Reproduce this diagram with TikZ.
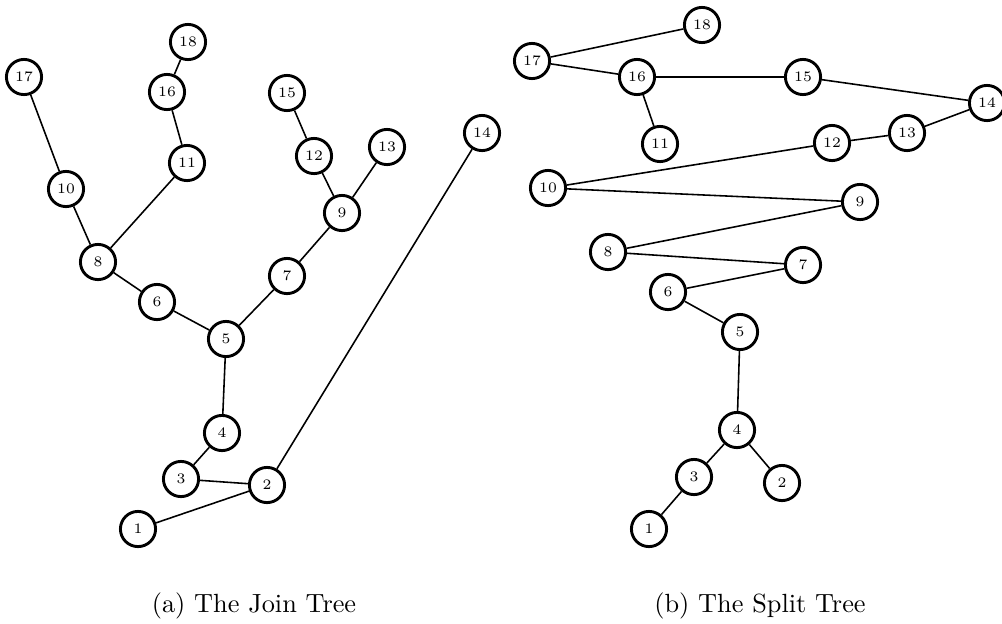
\documentclass[tikz,border=0pt]{standalone}
\begin{document}
\begin{tikzpicture} [x=0.1336cm, y=0.1336cm,
    vertex/.style={circle, draw, line width=1.1pt, minimum size=0.47cm, inner sep=0pt, font=\fontsize{5.5}{6}\selectfont},
    every path/.style={line width=0.6pt}]
    \useasboundingbox (0,0) rectangle (100.2,62.3);
    \node[vertex] (j1) at (13.8, 9.4) {1};
    \node[vertex] (j2) at (26.7, 13.8) {2};
    \node[vertex] (j3) at (18.1, 14.4) {3};
    \node[vertex] (j4) at (22.2, 19.0) {4};
    \node[vertex] (j5) at (22.6, 28.4) {5};
    \node[vertex] (j6) at (15.7, 32.1) {6};
    \node[vertex] (j7) at (28.7, 34.7) {7};
    \node[vertex] (j8) at (9.8, 36.1) {8};
    \node[vertex] (j9) at (34.2, 41.0) {9};
    \node[vertex] (j10) at (6.6, 43.4) {10};
    \node[vertex] (j11) at (18.7, 46.0) {11};
    \node[vertex] (j12) at (31.4, 46.7) {12};
    \node[vertex] (j13) at (38.7, 47.6) {13};
    \node[vertex] (j14) at (48.2, 49.0) {14};
    \node[vertex] (j15) at (28.7, 53.0) {15};
    \node[vertex] (j16) at (16.7, 53.1) {16};
    \node[vertex] (j17) at (2.4, 54.6) {17};
    \node[vertex] (j18) at (18.8, 58.1) {18};
    \draw (j1) -- (j2) -- (j14);
    \draw (j2) -- (j3) -- (j4) -- (j5);
    \draw (j5) -- (j6) -- (j8) -- (j10) -- (j17);
    \draw (j8) -- (j11) -- (j16) -- (j18);
    \draw (j5) -- (j7) -- (j9) -- (j12) -- (j15);
    \draw (j9) -- (j13);

    \node[vertex] (s1) at (64.9, 9.4) {1};
    \node[vertex] (s2) at (78.2, 14.0) {2};
    \node[vertex] (s3) at (69.4, 14.6) {3};
    \node[vertex] (s4) at (73.7, 19.3) {4};
    \node[vertex] (s5) at (74.0, 29.1) {5};
    \node[vertex] (s6) at (66.8, 33.1) {6};
    \node[vertex] (s7) at (80.3, 35.8) {7};
    \node[vertex] (s8) at (60.8, 37.1) {8};
    \node[vertex] (s9) at (86.0, 42.1) {9};
    \node[vertex] (s10) at (54.8, 43.5) {10};
    \node[vertex] (s11) at (66.0, 47.9) {11};
    \node[vertex] (s12) at (83.2, 48.0) {12};
    \node[vertex] (s13) at (90.7, 49.0) {13};
    \node[vertex] (s14) at (98.7, 52.0) {14};
    \node[vertex] (s15) at (80.3, 54.6) {15};
    \node[vertex] (s16) at (63.7, 54.6) {16};
    \node[vertex] (s17) at (53.2, 56.2) {17};
    \node[vertex] (s18) at (70.2, 59.8) {18};
    \draw (s1) -- (s3) -- (s4) -- (s2);
    \draw (s4) -- (s5) -- (s6) -- (s7) -- (s8) -- (s9) -- (s10) -- (s12) -- (s13) -- (s14) -- (s15) -- (s16) -- (s17) -- (s18);
    \draw (s16) -- (s11);

    \node[anchor=base] (capa) at (25.4, 1.1) {(a) The Join Tree};
    \node[anchor=base] (capb) at (76.0, 1.1) {(b) The Split Tree};
  \end{tikzpicture}
\end{document}
